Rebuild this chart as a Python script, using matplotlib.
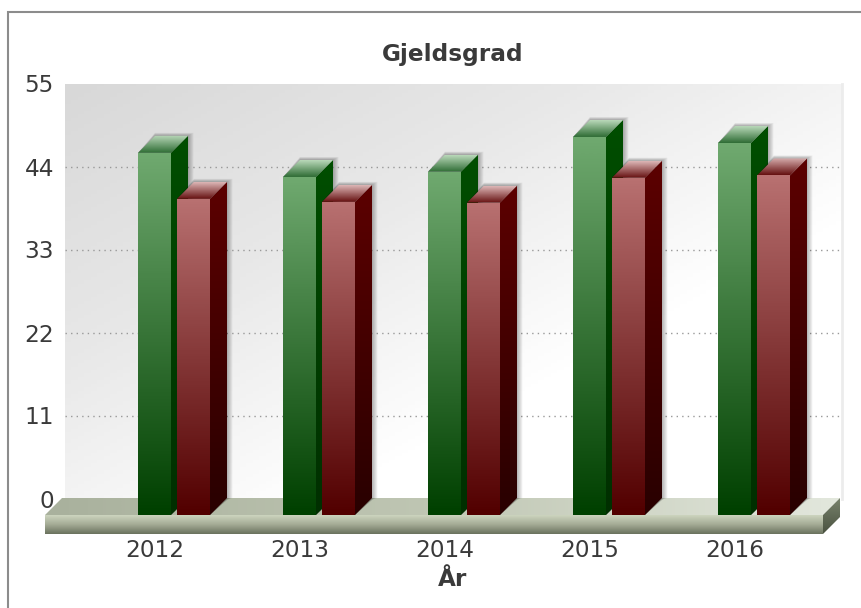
import numpy as np
from matplotlib import pyplot as plt
from matplotlib.colors import LinearSegmentedColormap
from matplotlib.patches import Polygon, Rectangle

years = ['2012', '2013', '2014', '2015', '2016']
green_values = [48.0, 44.8, 45.5, 50.1, 49.3]
red_values = [41.9, 41.5, 41.4, 44.7, 45.0]
y_ticks = [0, 11, 22, 33, 44, 55]

W, H = 862, 608
TEXT = '#3a3a3a'


def px_axes(fig, left, top, right, bottom, **kw):
    return fig.add_axes([left / W, 1 - bottom / H, (right - left) / W, (bottom - top) / H], **kw)


fig = plt.figure(figsize=(W / 100, H / 100), dpi=100)
fig.patch.set_facecolor('white')
fig.add_artist(Rectangle((8.5 / W, -0.01), (W - 8) / W, 1 - 11.5 / H + 0.01, transform=fig.transFigure,
                         fill=False, edgecolor='#8c8c8c', linewidth=1.5))

# back wall, holds the y axis
back = px_axes(fig, 65, 83.5, 842, 498.5, zorder=1)
wall = LinearSegmentedColormap.from_list('wall', ['#d8d8d8', '#e8e8e8', '#ffffff', '#ffffff'])
xx, yy = np.meshgrid(np.linspace(0, 1, 120), np.linspace(0, 1, 120))
back.imshow((xx + yy) / 2, extent=(0, 1, 0, 55), origin='upper', aspect='auto', cmap=wall, zorder=0)
back.set_xlim(0, 1)
back.set_ylim(0, 55)
back.set_xticks([])
back.set_yticks(y_ticks)
back.tick_params(axis='y', length=0, pad=8, labelsize=16.7, labelcolor=TEXT)
back.grid(axis='y', color='#999999', linestyle=(0, (1, 3)), linewidth=1.0, zorder=1)
back.yaxis.get_gridlines()[-1].set_visible(False)
back.yaxis.get_gridlines()[0].set_visible(False)
back.set_axisbelow(False)
for s in back.spines.values():
    s.set_visible(False)
back.plot([1, 1], [0, 55], color='#ececec', linewidth=2, clip_on=False, zorder=1)

# front plane, holds the bars and the x axis
ax = px_axes(fig, 45, 100, 823, 515, zorder=2)
ax.patch.set_alpha(0)
PX_X = 145.0
PX_Y = 415 / 55
xlim = ((45 - 155) / PX_X, (823 - 155) / PX_X)
DX = 17 / PX_X
DY = 17 / PX_Y
BAR_W = 33 / PX_X


def grad_poly(points, colors, z, horizontal=False):
    points = np.array(points, dtype=float)
    cmap = LinearSegmentedColormap.from_list('g', colors)
    g = np.linspace(1, 0, 64)[:, None] if not horizontal else np.linspace(0, 1, 64)[None, :]
    extent = (points[:, 0].min(), points[:, 0].max(), points[:, 1].min(), points[:, 1].max())
    im = ax.imshow(g, extent=extent, origin='upper', aspect='auto', cmap=cmap, vmin=0, vmax=1,
                   zorder=z, interpolation='bilinear')
    clip = Polygon(points, closed=True, transform=ax.transData, facecolor='none', edgecolor='none')
    ax.add_patch(clip)
    im.set_clip_box(fig.bbox)
    im.set_clip_path(clip)


def draw_bar(x, v, front, side, top, z):
    r = x + BAR_W
    # soft shadow on the right and over the top
    for k in range(1, 7):
        ex = k * 0.9 / PX_X
        ey = k * 0.5 / PX_Y
        ax.add_patch(Polygon([(r, 0), (r + DX, DY * 0.9), (r + DX + ex, DY), (r + DX + ex, v + DY + ey),
                              (x + DX, v + DY + ey), (x, v)],
                             closed=True, facecolor='black', edgecolor='none', alpha=0.05,
                             zorder=z, clip_on=False))
    grad_poly([(x, 0), (r, 0), (r, v), (x, v)], front, z + 0.3)
    grad_poly([(r, 0), (r + DX, DY), (r + DX, v + DY), (r, v)], side, z + 0.2)
    grad_poly([(x, v), (r, v), (r + DX, v + DY), (x + DX, v + DY)], top, z + 0.2)


# floor slab
f_th = 19 / PX_Y
grad_poly([(xlim[0], 0), (xlim[1], 0), (xlim[1] + DX, DY), (xlim[0] + DX, DY)],
          ['#a9b19d', '#c0c7b4', '#e2e7dc'], 2, horizontal=True)
grad_poly([(xlim[0], -f_th), (xlim[1], -f_th), (xlim[1], 0), (xlim[0], 0)],
          ['#6a725e', '#a4ab95', '#ccd4be'], 2)
grad_poly([(xlim[1], -f_th), (xlim[1] + DX, DY - f_th), (xlim[1] + DX, DY), (xlim[1], 0)],
          ['#4a5240', '#78826c'], 2)

green_front = ['#004000', '#6fa96f']
green_side = ['#002f00', '#004e00']
green_top = ['#2f6d35', '#b9d8b9']
red_front = ['#520000', '#b87070']
red_side = ['#290000', '#5c0000']
red_top = ['#661010', '#dcb6b6']

for i, (g, r) in enumerate(zip(green_values, red_values)):
    draw_bar(i - 17 / PX_X, g, green_front, green_side, green_top, 3 + i * 2)
    draw_bar(i + 22 / PX_X, r, red_front, red_side, red_top, 4 + i * 2)

ax.set_xlim(*xlim)
ax.set_ylim(0, 55)
ax.set_yticks([])
ax.set_xticks(range(len(years)))
ax.set_xticklabels(years)
ax.tick_params(axis='x', length=0, pad=17, labelsize=16.7, labelcolor=TEXT)
ax.set_xlabel('År', fontsize=16.7, fontweight='bold', color=TEXT)
ax.xaxis.set_label_coords((453 - 45) / 778, -(579 - 515) / 415, transform=ax.transAxes)
ax.xaxis.label.set_verticalalignment('center')
for s in ax.spines.values():
    s.set_visible(False)

fig.text(453 / W, 1 - 54 / H, 'Gjeldsgrad', ha='center', va='center', fontsize=16.7,
         fontweight='bold', color=TEXT)

fig.savefig('out.png', dpi=100)
